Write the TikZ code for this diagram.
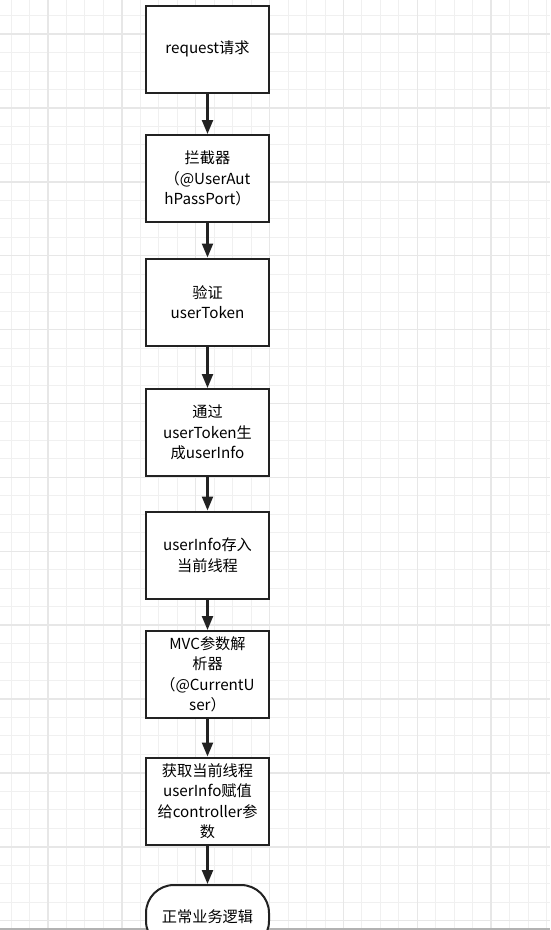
\documentclass[tikz,border=0pt]{standalone}
\usepackage{fontspec}
\setmainfont{Noto Sans CJK SC}
\usepackage{xcolor}
\usetikzlibrary{arrows.meta}

\definecolor{boxline}{HTML}{222222}
\definecolor{gridminor}{HTML}{F0F0F0}
\definecolor{gridmajor}{HTML}{E7E7E7}

\begin{document}
\begin{tikzpicture}[x=1pt, y=-1pt,
        stepbox/.style={draw=boxline, line width=2pt, fill=white, minimum width=123pt, minimum height=87pt, align=center, inner sep=2pt, font=\fontsize{15.2}{20.5}\selectfont},
        endbox/.style={stepbox, minimum height=64pt, rounded corners=28pt},
        flow/.style={draw=boxline, line width=2.2pt, -{Triangle[length=14pt,width=11pt]}}]
    \useasboundingbox (0,0) rectangle (550,930);
    \clip (0,0) rectangle (550,930);
    \fill[white] (0,0) rectangle (550,930);
    % background grid
    \foreach \i in {0,...,29}
        \draw[gridminor, line width=1pt] (11.1+18.465*\i,0) -- (11.1+18.465*\i,930);
    \foreach \j in {0,...,50}
        \draw[gridminor, line width=1pt] (0,15.6+18.47*\j) -- (550,15.6+18.47*\j);
    \foreach \k in {0,...,6}
        \draw[gridmajor, line width=1.4pt] (48+73.86*\k,0) -- (48+73.86*\k,930);
    \foreach \k in {-1,...,11}
        \draw[gridmajor, line width=1.4pt] (0,108+73.88*\k) -- (550,108+73.88*\k);
    \draw[black!30, line width=2pt] (0,929) -- (550,929);

    % steps
    \node[stepbox] (request) at (207.5,49) {request请求};
    \node[stepbox] (interceptor) at (207.5,178.5) {拦截器\\（@UserAut\\hPassPort）};
    \node[stepbox] (verify) at (207.5,302) {验证\\userToken};
    \node[stepbox] (build) at (207.5,432.5) {通过\\userToken生\\成userInfo};
    \node[stepbox] (store) at (207.5,555) {userInfo存入\\当前线程};
    \node[stepbox] (resolver) at (207.5,674.5) {MVC参数解\\析器\\（@CurrentU\\ser）};
    \node[stepbox] (assign) at (207.5,801) {获取当前线程\\userInfo赋值\\给controller参\\数};
    \node[endbox] (business) at (207.5,917) {正常业务逻辑};

    \draw[flow] (request) -- (interceptor);
    \draw[flow] (interceptor) -- (verify);
    \draw[flow] (verify) -- (build);
    \draw[flow] (build) -- (store);
    \draw[flow] (store) -- (resolver);
    \draw[flow] (resolver) -- (assign);
    \draw[flow] (assign) -- (business);
\end{tikzpicture}
\end{document}
